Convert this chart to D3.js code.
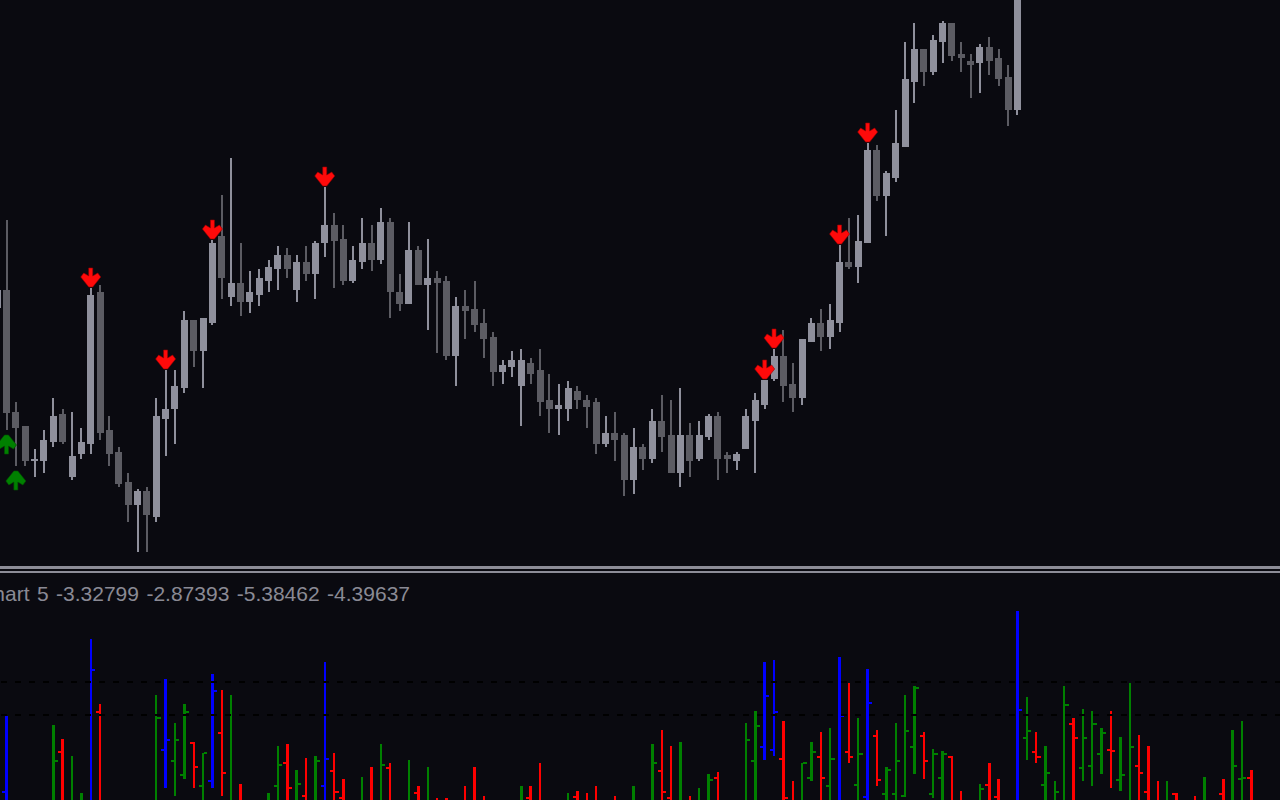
<!DOCTYPE html>
<html><head><meta charset="utf-8">
<script src="https://cdn.jsdelivr.net/npm/d3@7/dist/d3.min.js"></script>
<style>html,body{margin:0;padding:0;background:#0a0a10;overflow:hidden}</style>
</head><body>
<svg id="c" width="1280" height="800"></svg>
<script>
// ---- main price candles (index -1 .. 108) ----
const candleStart = -1;
const candleOpen = [
  292,310,188,174,140,139,158,186,123,146,
  156,308,170,148,118,95,109,83,181,191,
  212,280,249,277,364,303,317,298,305,319,
  331,345,310,338,326,357,375,361,319,338,
  357,340,378,308,296,350,315,322,319,244,
  294,291,277,263,228,233,214,237,230,200,
  191,191,209,200,198,156,167,165,120,153,
  141,179,165,127,165,141,163,184,145,139,
  151,179,195,221,244,216,202,258,277,263,
  277,338,333,357,450,404,422,453,518,551,
  528,558,577,546,539,537,553,542,523,490];
const candleHigh = [
  320,380,198,174,151,170,202,191,188,172,
  312,315,184,153,127,111,113,202,230,230,
  289,280,282,360,405,442,357,329,331,340,
  354,352,345,354,359,413,387,375,354,382,
  375,392,382,326,378,354,361,329,324,303,
  310,319,291,268,240,249,251,242,251,226,
  216,219,214,205,202,184,188,167,172,156,
  191,205,200,212,177,179,186,188,148,148,
  191,207,220,251,270,237,261,282,291,296,
  355,382,385,457,455,429,490,558,577,551,
  565,579,577,558,546,556,563,551,535,620];
const candleLow = [
  285,170,134,134,123,127,153,156,120,141,
  146,160,134,113,78,48,48,78,144,156,
  207,233,212,275,301,294,284,287,294,308,
  310,322,298,319,301,343,312,315,317,331,
  329,336,282,289,296,315,270,247,240,214,
  261,268,242,214,216,223,174,216,184,167,
  165,179,191,172,146,153,139,104,106,130,
  137,148,127,113,123,139,160,120,127,130,
  151,127,191,219,198,188,195,258,249,251,
  268,331,317,357,399,364,418,453,497,514,
  525,537,539,528,502,507,525,514,474,485];
const candleClose = [
  310,187,172,139,141,160,184,158,144,158,
  305,167,146,116,95,109,85,184,191,214,
  280,249,282,357,322,317,298,308,322,333,
  345,331,338,326,357,375,359,319,340,357,
  340,378,308,296,350,315,322,317,244,294,
  289,275,261,228,235,240,240,226,198,191,
  195,212,200,193,156,167,160,120,153,141,
  179,163,127,165,139,165,184,141,141,146,
  184,200,220,244,214,202,261,277,263,280,
  338,333,359,450,404,427,457,521,551,528,
  560,577,544,542,535,553,539,521,490,605];

// signal arrows (candle indices)
const sellSignals = [9,17,22,34,81,82,89,92];
const buySignals = [0,1];

// ---- sub window OHLC bars ----
const subIndex = [
  0,5,6,7,8,9,10,16,17,18,
  19,20,21,22,23,24,25,28,29,30,
  31,32,33,34,35,36,38,39,40,41,
  43,44,45,46,47,49,50,51,55,56,
  57,60,61,62,63,65,67,69,70,71,
  72,73,74,75,76,79,80,81,82,83,
  84,85,86,87,88,89,90,91,92,93,
  94,95,96,97,98,99,100,101,102,104,
  105,106,108,109,110,111,112,113,114,115,
  116,117,118,119,120,121,122,123,124,125,
  127,128,130,131,132,133];
const subHigh = [
  -1,-10,-24,-41,-78,76,11,20,36,-8,
  11,-27,-38,41,25,20,-69,-78,-31,-29,
  -55,-43,-41,53,-38,-64,-62,-52,-29,-48,
  -45,-71,-52,-83,-83,-71,-52,-81,-71,-71,
  -48,-78,-76,-78,-71,-81,-71,-29,-15,-31,
  -27,-81,-73,-59,-57,-8,4,53,55,-6,
  -66,-48,-27,-17,-13,58,32,-3,46,-15,
  -52,-8,20,29,-17,-34,-36,-41,-76,-69,
  -48,-64,104,18,-17,-31,-66,29,-3,6,
  4,-13,4,-22,32,-20,-31,-66,-66,-78,
  -81,-62,-64,-15,-6,-55];
const subOpen = [
  -77,-100,-37,-97,-100,-100,3,-100,-35,-46,
  -60,-27.5,-71,-66,-18,-100,-95,-100,-71,-48,
  -100,-81,-100,-71,-56,-83,-100,-95,-100,-53,
  -100,-78,-100,-95,-95,-95,-95,-95,-100,-83,
  -95,-100,-82,-95,-95,-95,-100,-100,-56,-83,
  -100,-95,-100,-100,-63,-100,-46,-32,-35,-44,
  -95,-100,-63,-42,-71,-100,-37,-70,-82,-21,
  -79,-79,-81,-32,-21,-79,-63,-42,-95,-100,
  -70,-82,-100,-23,-37,-70,-100,-100,-9,-53,
  -51,-39,-35,-65,-100,-51,-77,-95,-100,-79,
  -95,-100,-79,-100,-63.5,-63];
const subClose = [
  -100,-46,-100,-90,-95,45,-100,-3,-25,-25,
  3,-52,-38,24,-58,-95,-100,-95,-50,-73,
  -69,-100,-46,-44,-77,-100,-95,-100,-50,-100,
  -95,-100,-95,-100,-100,-100,-100,-100,-95,-100,
  -100,-95,-100,-100,-100,-100,-95,-48,-77,-100,
  -95,-100,-95,-65,-100,-25,-11,19,3,-83,
  -100,-48,-37,-63,-44,-1,-42,-39,12,-65,
  -55,-46,-16,27,-46,-39,-39,-100,-100,-74,
  -100,-100,5,-16,-42,-58,-77,10,-23,-23,
  -9,-18,-35.5,-60,-32,-58,-100,-100,-95,-100,
  -100,-95,-100,-51,-63,-100];
const subLow = [
  -110,-110,-110,-110,-110,-110,-110,-110,-73,-81,
  -64,-73,-110,-73,-81,-110,-110,-110,-110,-110,
  -110,-110,-110,-110,-110,-110,-110,-110,-110,-110,
  -110,-110,-110,-110,-110,-110,-110,-110,-110,-110,
  -110,-110,-110,-110,-110,-110,-110,-110,-110,-110,
  -110,-110,-110,-110,-110,-110,-110,-45,-41,-110,
  -110,-110,-66,-110,-110,-110,-48,-110,-110,-71,
  -110,-110,-82,-59,-64,-83,-110,-110,-110,-110,
  -110,-110,-110,-45,-48,-110,-110,-110,-110,-66,
  -71,-59,-73,-76,-110,-110,-110,-110,-110,-110,
  -110,-110,-110,-110,-110,-110];
const subExtreme = [0,9,17,22,34,81,82,89,92,108];
const subLevels = [0, 33];
const subLabel = "Chart 5 -3.32799 -2.87393 -5.38462 -4.39637";

// ---- drawing ----
const W = 1280, H = 800;
const svg = d3.select("#c");
svg.append("rect").attr("width", W).attr("height", H).attr("fill", "#0a0a10");

const x = d3.scaleLinear().domain([0, 108]).range([6.5, 1017.4]);
const y = d3.scaleLinear().domain([0, 600]).range([600, 0]);
const ys = d3.scaleLinear().domain([0, 100]).range([715, 615]);

const defs = svg.append("defs");
defs.append("clipPath").attr("id", "mainClip").append("rect").attr("x", 0).attr("y", 0).attr("width", W).attr("height", 564);
defs.append("clipPath").attr("id", "subClip").append("rect").attr("x", 0).attr("y", 574).attr("width", W).attr("height", 226);

const candles = candleOpen.map((o, i) => ({
  i: i + candleStart, o, h: candleHigh[i], l: candleLow[i], c: candleClose[i]
}));
const BULL = "#8f909c", BEAR = "#5c5c63";

const gMain = svg.append("g").attr("clip-path", "url(#mainClip)").attr("shape-rendering", "crispEdges");
gMain.selectAll("rect.wick").data(candles).join("rect")
  .attr("x", d => Math.round(x(d.i) - 1))
  .attr("width", 2)
  .attr("y", d => y(d.h))
  .attr("height", d => Math.max(1, y(d.l) - y(d.h)))
  .attr("fill", d => d.c >= d.o ? BULL : BEAR);
gMain.selectAll("rect.body").data(candles).join("rect")
  .attr("x", d => Math.round(x(d.i) - 3.5))
  .attr("width", 7)
  .attr("y", d => y(Math.max(d.o, d.c)))
  .attr("height", d => Math.max(2, Math.abs(y(d.o) - y(d.c))))
  .attr("fill", d => d.c >= d.o ? BULL : BEAR);

const arrowPath = "M-2,-21H2V-13L7,-16L10,-12L2,-2H-2L-10,-12L-7,-16L-2,-13Z";
const gArr = svg.append("g").attr("clip-path", "url(#mainClip)");
gArr.selectAll("path.sell").data(sellSignals).join("path")
  .attr("d", arrowPath)
  .attr("transform", i => `translate(${x(i)},${y(candles[i - candleStart].h) + 1})`)
  .attr("fill", "#ff0a0a").attr("stroke", "#9a0000").attr("stroke-width", 0.6);
gArr.selectAll("path.buy").data(buySignals).join("path")
  .attr("d", arrowPath)
  .attr("transform", i => `translate(${x(i)},${y(candles[i - candleStart].l) + 3}) scale(1,-1)`)
  .attr("fill", "#008000").attr("stroke", "#005000").attr("stroke-width", 0.6);

// separator
svg.append("rect").attr("x", 0).attr("y", 566).attr("width", W).attr("height", 3).attr("fill", "#8d8d97");
svg.append("rect").attr("x", 0).attr("y", 571).attr("width", W).attr("height", 2).attr("fill", "#8d8d97");

// sub window
const bars = subIndex.map((idx, k) => ({
  idx, h: subHigh[k], o: subOpen[k], c: subClose[k], l: subLow[k]
}));
const colorOf = d => subExtreme.includes(d.idx) ? "#0000ff" : (d.c >= d.o ? "#008000" : "#ff0000");
const gSub = svg.append("g").attr("clip-path", "url(#subClip)").attr("shape-rendering", "crispEdges");
gSub.selectAll("rect.bar").data(bars).join("rect")
  .attr("x", d => x(d.idx) - 1.2).attr("width", 2.4)
  .attr("y", d => ys(d.h)).attr("height", d => ys(d.l) - ys(d.h))
  .attr("fill", colorOf);
gSub.selectAll("rect.op").data(bars).join("rect")
  .attr("x", d => x(d.idx) - 4.2).attr("width", 3.2)
  .attr("y", d => ys(d.o) - 1).attr("height", 2)
  .attr("fill", colorOf);
gSub.selectAll("rect.cl").data(bars).join("rect")
  .attr("x", d => x(d.idx) + 1.2).attr("width", 3.2)
  .attr("y", d => ys(d.c) - 1).attr("height", 2)
  .attr("fill", colorOf);

svg.append("g").selectAll("line").data(subLevels).join("line")
  .attr("x1", 0).attr("x2", W)
  .attr("y1", d => ys(d)).attr("y2", d => ys(d))
  .attr("stroke", "#000").attr("stroke-width", 2)
  .attr("stroke-dasharray", "6,8").attr("stroke-dashoffset", -1);

svg.append("text").attr("x", 410).attr("y", 601)
  .attr("text-anchor", "end")
  .attr("font-family", "Liberation Sans, Arial, sans-serif")
  .attr("font-size", 21).attr("fill", "#8a8a95")
  .attr("word-spacing", 1.6)
  .text(subLabel);
</script>
</body></html>
